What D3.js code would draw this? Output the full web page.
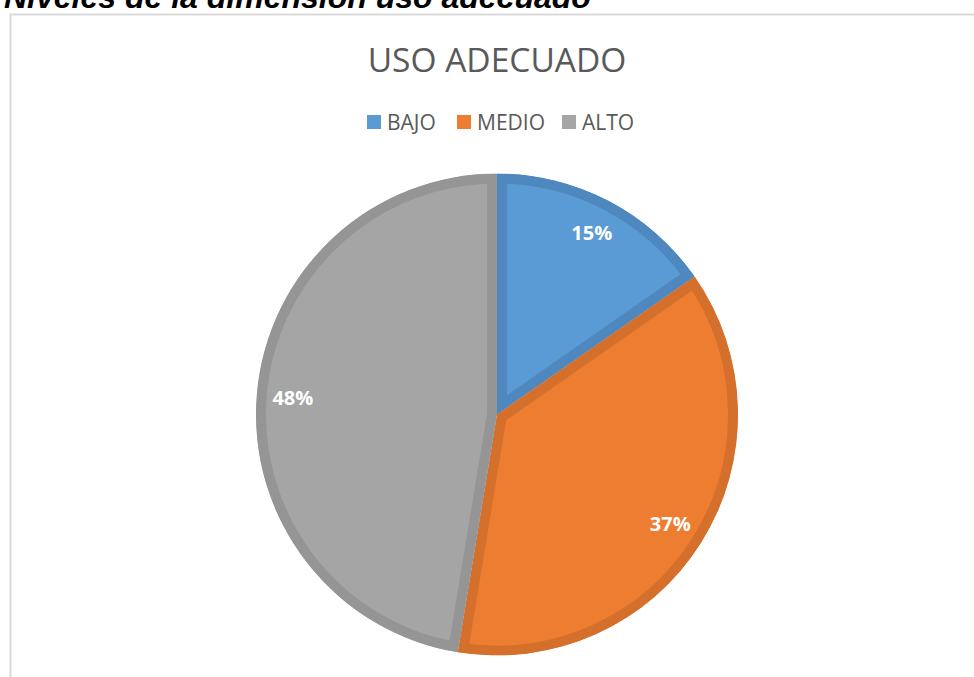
<!DOCTYPE html>
<html>
<head>
<meta charset="utf-8">
<script src="https://cdn.jsdelivr.net/npm/d3@7"></script>
<style>
  body { margin: 0; background: #fff; }
  svg { display: block; }
</style>
</head>
<body>
<script>
// chart data
let categories = ["BAJO", "MEDIO", "ALTO"];
let values = [15.3, 37.3, 47.4];
let labels = ["15%", "37%", "48%"];
let fills = ["#5b9bd5", "#ed7d31", "#a5a5a5"];
let borders = ["#4f88bf", "#d4702c", "#959595"];

let width = 974, height = 677;
let cx = 497, cy = 414.5, radius = 241;

let svg = d3.select("body").append("svg")
  .attr("width", width)
  .attr("height", height);

// caption cut at the top (as in the source image)
svg.append("text")
  .attr("x", 4)
  .attr("y", 8)
  .style("font-family", "'Liberation Sans', Arial, sans-serif")
  .style("font-weight", "bold")
  .style("font-style", "italic")
  .style("font-size", "32px")
  .attr("fill", "#000")
  .text("Niveles de la dimensión uso adecuado");

// chart frame
svg.append("rect")
  .attr("x", 10.5)
  .attr("y", 14.5)
  .attr("width", width)
  .attr("height", height)
  .attr("fill", "#fff")
  .attr("stroke", "#d9d9d9")
  .attr("stroke-width", 2);

// title
svg.append("text")
  .attr("x", cx)
  .attr("y", 72)
  .attr("text-anchor", "middle")
  .style("font-family", "'Open Sans', sans-serif")
  .style("font-size", "33.5px")
  .attr("fill", "#595959")
  .text("USO ADECUADO");

// legend
let legendX = [367, 457, 562];
let legend = svg.append("g");
categories.forEach((c, i) => {
  legend.append("rect")
    .attr("x", legendX[i])
    .attr("y", 115)
    .attr("width", 14)
    .attr("height", 14)
    .attr("fill", fills[i]);
  legend.append("text")
    .attr("x", legendX[i] + 20)
    .attr("y", 130)
    .style("font-family", "'Open Sans', sans-serif")
    .style("font-size", "21px")
    .attr("fill", "#595959")
    .text(c);
});

// pie
let pie = d3.pie().sort(null).value(d => d)(values);
let arc = d3.arc().innerRadius(0).outerRadius(radius);
let labelArc = d3.arc().innerRadius(radius * 0.85).outerRadius(radius * 0.85);

let g = svg.append("g").attr("transform", "translate(" + cx + "," + cy + ")");
let defs = svg.append("defs");

pie.forEach((p, i) => {
  defs.append("clipPath")
    .attr("id", "clip" + i)
    .append("path")
    .attr("d", arc(p));

  // thick stroke clipped to the slice -> inner darker border
  g.append("path")
    .attr("d", arc(p))
    .attr("fill", fills[i])
    .attr("stroke", borders[i])
    .attr("stroke-width", 20)
    .attr("stroke-linejoin", "miter")
    .attr("clip-path", "url(#clip" + i + ")");
});

// data labels
pie.forEach((p, i) => {
  let pos = labelArc.centroid(p);
  g.append("text")
    .attr("x", pos[0])
    .attr("y", pos[1])
    .attr("dy", "0.35em")
    .attr("text-anchor", "middle")
    .style("font-family", "'Open Sans', sans-serif")
    .style("font-weight", "bold")
    .style("font-size", "20px")
    .attr("fill", "#fff")
    .text(labels[i]);
});
</script>
</body>
</html>
